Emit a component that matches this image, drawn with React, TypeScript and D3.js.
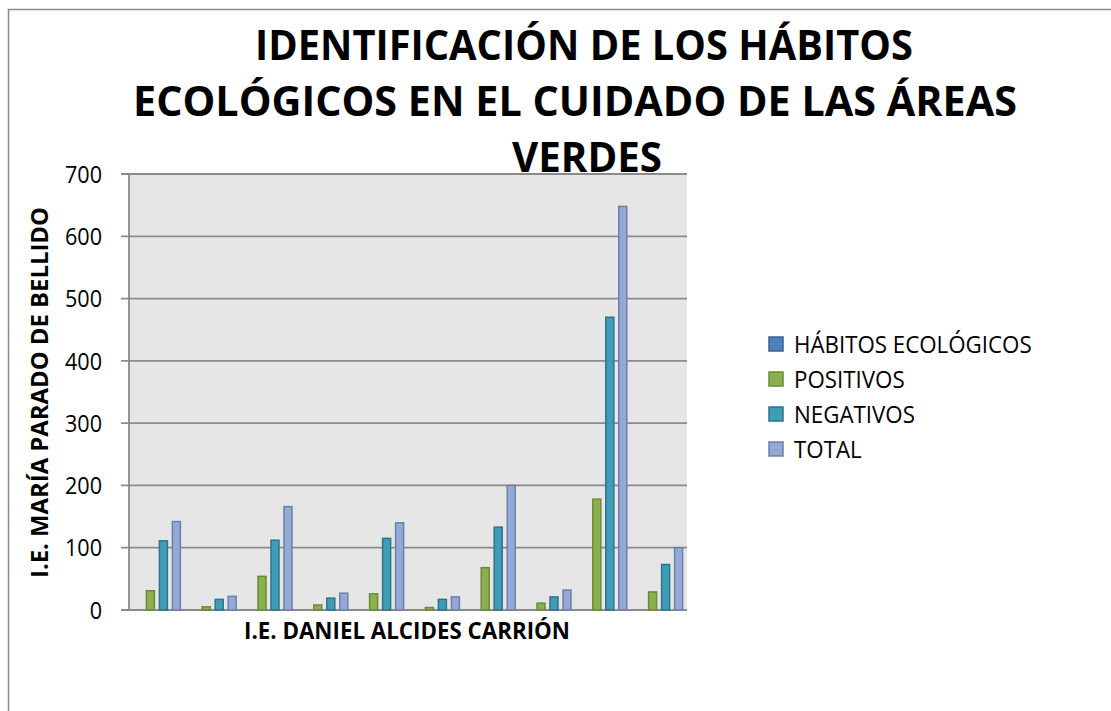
import React, { useEffect, useRef } from 'react';
import * as d3 from 'd3';

// datos (10 grupos sin etiqueta)
const categories = ['1', '2', '3', '4', '5', '6', '7', '8', '9', '10'];
const seriesNames = ['HÁBITOS ECOLÓGICOS', 'POSITIVOS', 'NEGATIVOS', 'TOTAL'];
const habitos = [0, 0, 0, 0, 0, 0, 0, 0, 0, 0];
const positivos = [31, 5, 54, 8, 26, 4, 68, 11, 178, 29];
const negativos = [111, 17, 112, 19, 115, 17, 133, 21, 470, 73];
const total = [142, 22, 166, 27, 140, 21, 200, 32, 648, 100];
const yTicks = [0, 100, 200, 300, 400, 500, 600, 700];

const titleLines = ['IDENTIFICACIÓN DE LOS HÁBITOS', 'ECOLÓGICOS EN EL CUIDADO DE LAS ÁREAS', 'VERDES'];

const FILLS = ['#4F81BD', '#8DB04F', '#3F9DB7', '#94A9D7'];
const STROKES = ['#385D8A', '#6A8A37', '#2E7489', '#6E80A8'];

const FONT = '"Open Sans", "Noto Sans", sans-serif';

const W = 1111;
const H = 711;
const plot = { left: 129, top: 174, right: 687, bottom: 610 };

export default function App() {
  const ref = useRef<SVGSVGElement>(null);

  useEffect(() => {
    const svg = d3.select(ref.current);
    svg.selectAll('*').remove();

    const allSeries = [habitos, positivos, negativos, total];

    // marco exterior
    svg.append('rect')
      .attr('x', 8.5).attr('y', 9.5)
      .attr('width', 1300).attr('height', 900)
      .attr('fill', '#fff')
      .attr('stroke', '#8a8a8a')
      .attr('stroke-width', 1.5);

    const y = d3.scaleLinear().domain([0, 700]).range([plot.bottom, plot.top]);
    const x0 = d3.scaleBand<string>()
      .domain(categories)
      .range([plot.left, plot.right])
      .paddingInner(0.158)
      .paddingOuter(0.079);
    const x1 = d3.scaleBand<number>()
      .domain(d3.range(seriesNames.length))
      .range([0, x0.bandwidth()])
      .paddingInner(0.385);

    svg.append('rect')
      .attr('x', plot.left).attr('y', plot.top)
      .attr('width', plot.right - plot.left)
      .attr('height', plot.bottom - plot.top)
      .attr('fill', '#e6e6e6');

    // líneas de cuadrícula
    svg.append('g').selectAll('line')
      .data(yTicks)
      .enter().append('line')
      .attr('x1', plot.left - 8).attr('x2', plot.right)
      .attr('y1', d => y(d)).attr('y2', d => y(d))
      .attr('stroke', '#8b8b8b')
      .attr('stroke-width', 1.8);

    svg.append('line')
      .attr('x1', plot.left).attr('x2', plot.left)
      .attr('y1', plot.top).attr('y2', plot.bottom)
      .attr('stroke', '#8b8b8b')
      .attr('stroke-width', 1.8);

    svg.append('g').selectAll('text')
      .data(yTicks)
      .enter().append('text')
      .attr('transform', d => `translate(102,${y(d)}) scale(0.9,1)`)
      .attr('dy', '0.36em')
      .attr('text-anchor', 'end')
      .style('font-family', FONT)
      .style('font-size', '24px')
      .attr('fill', '#000')
      .text(d => d);

    // barras
    const groups = svg.append('g').selectAll('g')
      .data(categories)
      .enter().append('g')
      .attr('transform', c => `translate(${x0(c)},0)`);

    groups.selectAll('rect')
      .data((_, i) => allSeries.map((s, k) => ({ k, v: s[i] })))
      .enter().append('rect')
      .filter(d => d.v > 0)
      .attr('x', d => x1(d.k) as number)
      .attr('width', x1.bandwidth())
      .attr('y', d => y(d.v))
      .attr('height', d => y(0) - y(d.v))
      .attr('fill', d => FILLS[d.k])
      .attr('stroke', d => STROKES[d.k])
      .attr('stroke-width', 1.5);

    // título
    const titleX = [255, 133, 512];
    const titleW = [658, 884, 150];
    svg.append('g').selectAll('text')
      .data(titleLines)
      .enter().append('text')
      .attr('x', (_, i) => titleX[i])
      .attr('y', (_, i) => 60 + i * 56)
      .attr('textLength', (_, i) => titleW[i])
      .attr('lengthAdjust', 'spacingAndGlyphs')
      .style('font-family', FONT)
      .style('font-size', '42px')
      .style('font-weight', 700)
      .attr('fill', '#000')
      .text(d => d);

    // títulos de ejes
    svg.append('text')
      .attr('x', 244).attr('y', 639)
      .attr('textLength', 326)
      .attr('lengthAdjust', 'spacingAndGlyphs')
      .style('font-family', FONT)
      .style('font-size', '23px')
      .style('font-weight', 700)
      .text('I.E. DANIEL ALCIDES CARRIÓN');

    svg.append('text')
      .attr('transform', 'translate(48,578) rotate(-90)')
      .attr('textLength', 371)
      .attr('lengthAdjust', 'spacingAndGlyphs')
      .style('font-family', FONT)
      .style('font-size', '24px')
      .style('font-weight', 700)
      .text('I.E. MARÍA PARADO DE BELLIDO');

    // leyenda
    const legend = svg.append('g').selectAll('g')
      .data(seriesNames)
      .enter().append('g')
      .attr('transform', (_, i) => `translate(769,${344 + i * 35})`);

    legend.append('rect')
      .attr('x', 0).attr('y', -7)
      .attr('width', 14).attr('height', 14)
      .attr('fill', (_, i) => FILLS[i])
      .attr('stroke', (_, i) => STROKES[i])
      .attr('stroke-width', 1.5);

    legend.append('text')
      .attr('transform', 'translate(25,0) scale(0.93,1)')
      .attr('dy', '0.36em')
      .style('font-family', FONT)
      .style('font-size', '24px')
      .attr('fill', '#000')
      .text(d => d);
  }, []);

  return (
    <svg
      ref={ref}
      width={W}
      height={H}
      style={{ position: 'absolute', left: 0, top: 0, display: 'block', background: '#fff' }}
    />
  );
}
